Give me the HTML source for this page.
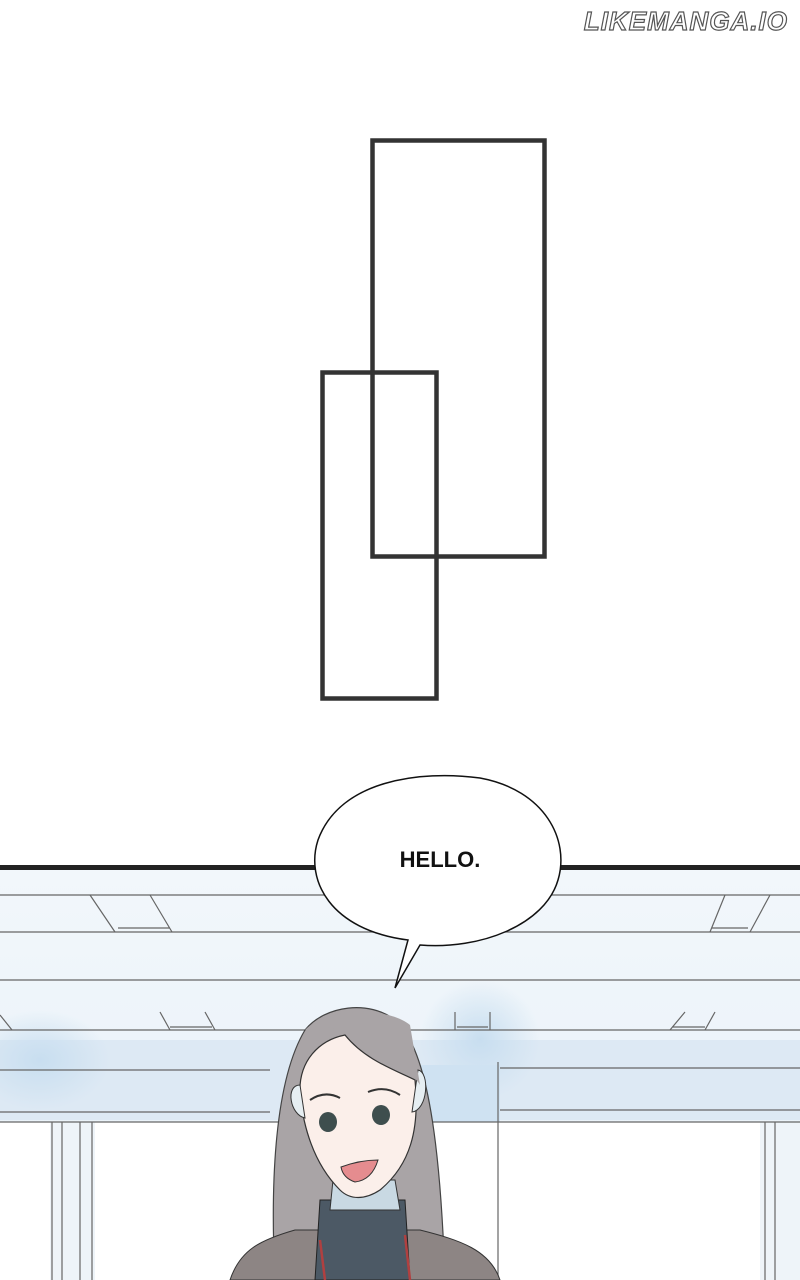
<!DOCTYPE html>
<html><head><style>
html,body{margin:0;padding:0;background:#fff;width:800px;height:1280px;overflow:hidden}
svg{display:block}
</style></head><body>
<svg width="800" height="1280" viewBox="0 0 800 1280" xmlns="http://www.w3.org/2000/svg">
<defs>
<linearGradient id="bg" x1="0" y1="0" x2="0" y2="1">
<stop offset="0" stop-color="#f2f7fb"/><stop offset="1" stop-color="#e6f0f8"/>
</linearGradient>
<radialGradient id="glow" cx="0.5" cy="0.5" r="0.5">
<stop offset="0" stop-color="#c8def0"/><stop offset="1" stop-color="#c8def0" stop-opacity="0"/>
</radialGradient>
</defs>
<rect width="800" height="1280" fill="#fff"/>
<text x="788" y="30" text-anchor="end" font-family="Liberation Sans, sans-serif" font-style="italic" font-weight="bold" font-size="26" fill="#fff" stroke="#555" stroke-width="1.2" letter-spacing="1">LIKEMANGA.IO</text>
<rect x="372.5" y="140.5" width="172" height="416" fill="none" stroke="#333" stroke-width="4.5"/>
<rect x="322.5" y="372.5" width="114" height="326" fill="none" stroke="#333" stroke-width="4.5"/>
<!-- bottom panel -->
<rect x="0" y="869" width="800" height="411" fill="url(#bg)"/>
<rect x="0" y="1040" width="800" height="80" fill="#dde9f4"/>
<ellipse cx="480" cy="1040" rx="60" ry="60" fill="url(#glow)"/>
<ellipse cx="40" cy="1060" rx="70" ry="50" fill="url(#glow)"/>
<rect x="420" y="1065" width="80" height="215" fill="#cfe2f2"/>
<rect x="0" y="1122" width="800" height="158" fill="#fff"/>
<rect x="50" y="1122" width="45" height="158" fill="#eef4f9"/>
<rect x="760" y="1122" width="40" height="158" fill="#eef4f9"/>
<g stroke="#666" stroke-width="1.2" fill="none">
<line x1="0" y1="895" x2="800" y2="895"/>
<line x1="0" y1="932" x2="800" y2="932"/>
<line x1="0" y1="980" x2="800" y2="980"/>
<line x1="0" y1="1030" x2="800" y2="1030"/>
<line x1="0" y1="1070" x2="270" y2="1070"/>
<line x1="500" y1="1068" x2="800" y2="1068"/>
<line x1="0" y1="1112" x2="270" y2="1112"/>
<line x1="500" y1="1110" x2="800" y2="1110"/>
<line x1="0" y1="1122" x2="800" y2="1122"/>
<path d="M90 895 L115 932 M150 895 L172 932 M118 928 L170 928"/>
<path d="M725 895 L710 932 M770 895 L750 932 M712 928 L748 928"/>
<path d="M160 1012 L170 1030 M205 1012 L215 1030 M170 1027 L212 1027"/>
<path d="M455 1012 L455 1030 M490 1012 L490 1030 M457 1027 L488 1027"/>
<path d="M685 1012 L670 1030 M715 1012 L705 1030 M672 1027 L705 1027"/>
<path d="M0 1015 L12 1030"/>
<path d="M498 1062 L498 1280 M52 1122 L52 1280 M62 1122 L62 1280 M80 1122 L80 1280 M92 1122 L92 1280 M765 1122 L765 1280 M775 1122 L775 1280"/>
</g>
<rect x="0" y="865" width="800" height="5" fill="#222"/>
<!-- character -->
<path d="M275 1280 C270 1180 275 1080 305 1030 C325 1005 370 1000 395 1020 C425 1045 440 1130 445 1280 Z" fill="#a9a4a6" stroke="#444" stroke-width="1.2"/>
<path d="M230 1280 C240 1250 260 1240 295 1230 L420 1230 C460 1240 490 1250 500 1280 Z" fill="#8d8584" stroke="#333" stroke-width="1"/>
<path d="M320 1200 L405 1200 L410 1280 L315 1280 Z" fill="#4c5965" stroke="#222" stroke-width="1"/>
<path d="M333 1180 L395 1180 L400 1210 L330 1210 Z" fill="#c9d9e3" stroke="#333"/>
<path d="M300 1095 C298 1060 320 1040 345 1035 C365 1060 395 1070 415 1080 C420 1130 410 1165 380 1190 C365 1200 350 1200 340 1190 C320 1170 305 1140 300 1095 Z" fill="#fbefea" stroke="#333" stroke-width="1.2"/>
<path d="M300 1085 C285 1085 290 1115 305 1118 Z" fill="#e6eef2" stroke="#333"/>
<path d="M418 1070 C430 1072 428 1110 412 1112 Z" fill="#e6eef2" stroke="#333"/>
<path d="M305 1030 C340 1020 360 1040 385 1060 C400 1070 415 1075 420 1085 L410 1025 C390 1008 330 1005 305 1030 Z" fill="#a9a4a6"/>
<path d="M320 1240 L325 1280 M405 1235 L410 1280" stroke="#b04040" stroke-width="2.5"/>
<ellipse cx="328" cy="1122" rx="9" ry="10" fill="#3e4e4e"/>
<ellipse cx="381" cy="1115" rx="9" ry="10" fill="#3e4e4e"/>
<path d="M310 1100 Q325 1090 340 1098 M368 1092 Q385 1085 400 1095" stroke="#333" stroke-width="2" fill="none"/>
<path d="M341 1167 Q360 1160 378 1160 Q372 1180 355 1182 Q343 1178 341 1167 Z" fill="#e58c8f" stroke="#333"/>
<!-- speech bubble -->
<path d="M395 988 L408 940 C330 930 305 880 318 840 C340 780 420 770 480 778 C545 790 570 840 558 880 C545 925 480 950 420 945 Z" fill="#fff" stroke="#111" stroke-width="1.5"/>
<text x="440" y="867" text-anchor="middle" font-family="Liberation Sans, sans-serif" font-weight="bold" font-size="22" fill="#111">HELLO.</text>
</svg>
</body></html>
